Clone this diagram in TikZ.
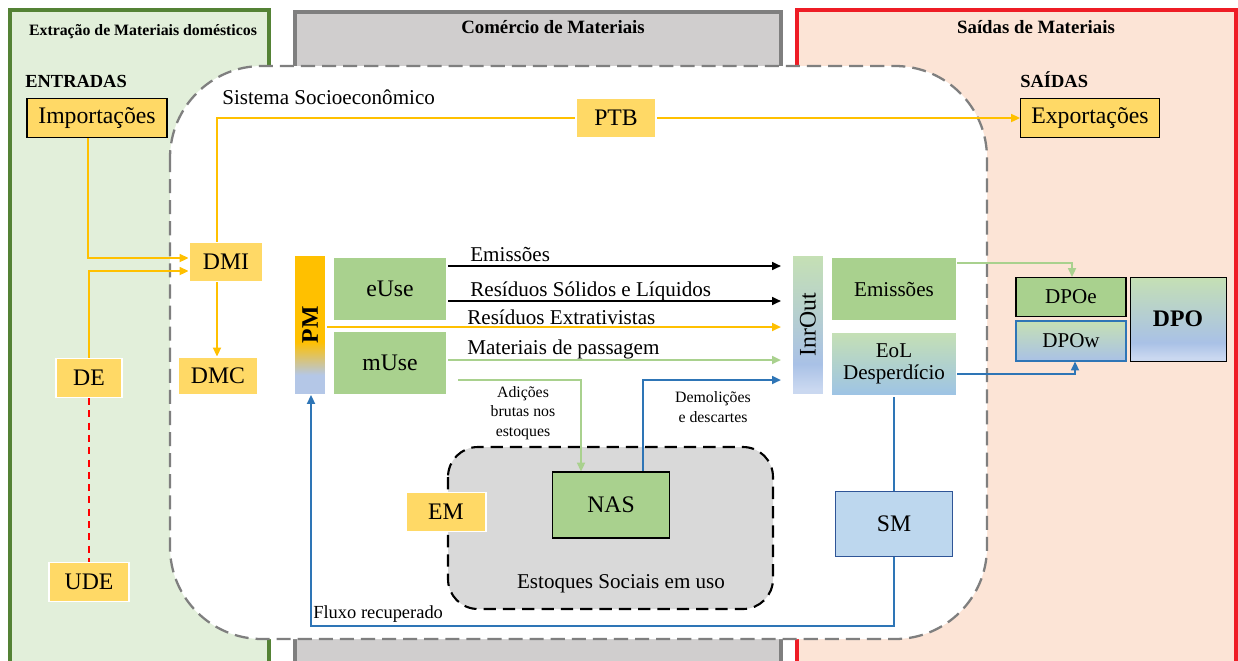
\documentclass[tikz,border=0pt]{standalone}
\usepackage{fontspec}
\setmainfont{Liberation Serif}
\usetikzlibrary{arrows.meta}

\definecolor{gold}{HTML}{FFD966}
\definecolor{amber}{HTML}{FFC000}
\definecolor{leaf}{HTML}{A9D18E}
\definecolor{paleleaf}{HTML}{C5E0B4}
\definecolor{sky}{HTML}{BDD7EE}
\definecolor{steel}{HTML}{2E75B6}
\definecolor{navyline}{HTML}{2F5597}
\definecolor{pmblue}{HTML}{B4C7E7}
\definecolor{dpoblue}{HTML}{A9C1E6}
\definecolor{dpolow}{HTML}{CAD8F0}
\definecolor{eolblue}{HTML}{9DC3E6}
\definecolor{panelgreen}{HTML}{E2EFDA}
\definecolor{bordergreen}{HTML}{548235}
\definecolor{panelgray}{HTML}{D0CECE}
\definecolor{bordergray}{HTML}{7F7F7F}
\definecolor{panelpeach}{HTML}{FCE4D6}
\definecolor{borderred}{HTML}{EE1C25}
\definecolor{stockgray}{HTML}{D9D9D9}

% vertical shadings (0bp = bottom, node spans 25bp..75bp)
\pgfdeclareverticalshading{pmshade}{100bp}{color(0bp)=(pmblue); color(32bp)=(pmblue); color(44bp)=(amber); color(100bp)=(amber)}
\pgfdeclareverticalshading{dposhade}{100bp}{color(0bp)=(dpolow); color(27bp)=(dpolow); color(36bp)=(dpoblue); color(75bp)=(paleleaf); color(100bp)=(paleleaf)}

\newcommand{\fsbox}{\fontsize{13.5}{15}\selectfont}
\newcommand{\fsmid}{\fontsize{12}{12.5}\selectfont}
\newcommand{\fssmall}{\fontsize{9}{11}\selectfont}
\newcommand{\fshead}{\fontsize{9}{11}\selectfont\bfseries}

\pgfdeclarelayer{panels}
\pgfdeclarelayer{flows}
\pgfsetlayers{panels,flows,main}

\tikzset{
  goldbox/.style={fill=gold, draw=white, line width=0.6pt, inner sep=0pt, font=\fsbox},
  leafbox/.style={fill=leaf, draw=white, line width=0.6pt, inner sep=0pt, font=\fsbox},
  barbox/.style={draw=white, line width=0.6pt, inner sep=0pt, minimum width=0.64cm, minimum height=2.78cm},
  flowlabel/.style={inner sep=0pt, font=\fsmid, anchor=base west},
  smalllabel/.style={inner sep=0pt, font=\fssmall, align=center},
  headtext/.style={inner sep=0pt, font=\fshead, anchor=base},
  sidetext/.style={inner sep=0pt, font=\fontsize{10.5}{12}\selectfont\bfseries, anchor=base west},
  tip/.style={-{Triangle[length=5pt,width=4.5pt]}},
  amberflow/.style={amber, line width=1.1pt, tip},
  blackflow/.style={black, line width=0.9pt, tip},
  leafflow/.style={leaf, line width=1.1pt, tip},
  steelflow/.style={steel, line width=1.1pt, tip}
}

\begin{document}
\begin{tikzpicture}[x=0.02cm, y=-0.02cm]
\useasboundingbox (0,0) rectangle (1238,660);

\begin{pgfonlayer}{panels}
  % the three column panels
  \draw[fill=panelgreen, draw=bordergreen, line width=2.2pt] (10,10) rectangle (269,675);
  \draw[fill=panelgray, draw=bordergray, line width=2.2pt] (295,12) rectangle (781,675);
  \draw[fill=panelpeach, draw=borderred, line width=2pt] (797,10) rectangle (1236,675);
  % socioeconomic system
  \draw[fill=white, draw=bordergray, line width=1.3pt, dash pattern=on 8pt off 4pt,
        rounded corners=1.84cm] (170,66) rectangle (987,639);
  % social stocks in use
  \draw[fill=stockgray, draw=black, line width=1.2pt, dash pattern=on 7pt off 4pt,
        rounded corners=0.6cm] (448,447) rectangle (773,609);
\end{pgfonlayer}

% panel titles
\node[headtext] (hdrext) at (143,35) {Extração de Materiais domésticos};
\node[headtext, font=\fontsize{10.7}{12}\selectfont\bfseries] (hdrcom) at (553,33) {Comércio de Materiais};
\node[headtext, font=\fontsize{10.7}{12}\selectfont\bfseries] (hdrout) at (1036,33) {Saídas de Materiais};
\node[sidetext] (entradas) at (25,87) {ENTRADAS};
\node[sidetext] (saidas) at (1020,87) {SAÍDAS};
\node[flowlabel] (sistema) at (222,104) {Sistema Socioeconômico};
\node[inner sep=0pt, font=\fsmid, anchor=base] (stocktext) at (621,588) {Estoques Sociais em uso};

% inputs
\node[goldbox, draw=black, minimum width=2.8cm, minimum height=0.78cm] (imp) at (97,118) {Importações};
\node[goldbox, minimum width=1.48cm, minimum height=0.78cm] (dmi) at (226,262) {DMI};
\node[goldbox, minimum width=1.6cm, minimum height=0.76cm] (dmc) at (218,376) {DMC};
\node[goldbox, minimum width=1.32cm, minimum height=0.78cm] (de) at (89,378) {DE};
\node[goldbox, minimum width=1.6cm, minimum height=0.78cm] (ude) at (89,582) {UDE};
\node[goldbox, minimum width=1.6cm, minimum height=0.8cm] (ptb) at (616,118) {PTB};
\node[goldbox, draw=black, minimum width=2.78cm, minimum height=0.78cm] (exp) at (1090,118) {Exportações};
\node[goldbox, minimum width=1.6cm, minimum height=0.78cm] (em) at (446,512) {EM};

% processing and use
\node[barbox, shading=pmshade] (pm) at (310,325) {};
\node[rotate=90, inner sep=0pt, font=\fsbox\bfseries] (pmtext) at (pm.center) {PM};
\node[leafbox, minimum width=2.28cm, minimum height=1.28cm] (euse) at (390,289) {eUse};
\node[leafbox, minimum width=2.28cm, minimum height=1.28cm] (muse) at (390,363) {mUse};
\node[leafbox, draw=black, minimum width=2.34cm, minimum height=1.32cm] (nas) at (611,505) {NAS};

% outputs
\node[barbox, shading=dposhade] (inr) at (808,325) {};
\node[rotate=90, inner sep=0pt, font=\fsbox] (inrtext) at (inr.center) {InrOut};
\node[leafbox, font=\fsmid, minimum width=2.5cm, minimum height=1.28cm] (emi) at (894,289) {Emissões};
\node[draw=white, line width=0.6pt, top color=paleleaf, bottom color=eolblue, font=\fsmid,
      align=center, inner sep=0pt, minimum width=2.5cm, minimum height=1.28cm] (eol) at (894,364) {EoL\\Desperdício};
\node[fill=sky, draw=navyline, line width=0.6pt, font=\fsbox, inner sep=0pt,
      minimum width=2.34cm, minimum height=1.3cm] (sm) at (894,524) {SM};
\node[leafbox, draw=black, font=\fsmid, minimum width=2.2cm, minimum height=0.78cm] (dpoe) at (1071,297) {DPOe};
\node[draw=steel, line width=0.6pt, top color=paleleaf, bottom color=dpoblue, font=\fsmid,
      inner sep=0pt, minimum width=2.2cm, minimum height=0.8cm] (dpow) at (1071,341) {DPOw};
\node[draw=black, line width=0.5pt, shading=dposhade, font=\fsbox\bfseries, inner sep=0pt,
      minimum width=1.92cm, minimum height=1.68cm] (dpo) at (1178,319) {DPO};

% flow labels
\node[flowlabel] (lblemi) at (470,261) {Emissões};
\node[flowlabel] (lblres) at (470,296) {Resíduos Sólidos e Líquidos};
\node[flowlabel] (lblext) at (467,324) {Resíduos Extrativistas};
\node[flowlabel] (lblpas) at (467,354) {Materiais de passagem};
\node[smalllabel] (lbladd) at (523,413) {Adições\\brutas nos\\estoques};
\node[smalllabel] (lbldem) at (713,407) {Demolições\\e descartes};
\node[inner sep=0pt, font=\fontsize{10.5}{12}\selectfont, anchor=base west] (lblrec) at (313,618) {Fluxo recuperado};

\coordinate (addstart) at (458,380);
\coordinate (recbend) at (311,626);

\begin{pgfonlayer}{flows}
  % into DMI
  \draw[amberflow] (imp.south -| 88,0) |- (dmi.west |- 0,258);
  \draw[amberflow] (de.north) |- (dmi.west |- 0,271);
  \draw[red, line width=1.1pt, dash pattern=on 4pt off 3pt] (de.south) -- (ude.north);
  % trade balance and consumption
  \draw[amberflow] (ptb.west) -| (dmc.north -| 217,0);
  \draw[amberflow] (ptb.east) -- (exp.west);
  % outputs of use
  \draw[blackflow, shorten >=6pt] (euse.east |- 0,266) -- (inr.west |- 0,266);
  \draw[blackflow, shorten >=6pt] (euse.east |- 0,301) -- (inr.west |- 0,301);
  \draw[amberflow, shorten >=6pt] (pm.east |- 0,327) -- (inr.west |- 0,327);
  \draw[leafflow, shorten >=6pt] (muse.east |- 0,360) -- (inr.west |- 0,360);
  % stocks
  \draw[leafflow] (addstart) -| (nas.north -| 581,0);
  \draw[steelflow, shorten >=6pt] (nas.north -| 643,0) |- (inr.west |- 0,380);
  % to DPO
  \draw[leafflow] (emi.east |- 0,263) -| (dpoe.north -| 1072,0);
  \draw[steelflow] (eol.east |- 0,374) -| (dpow.south -| 1075,0);
  % recycling
  \draw[steel, line width=1.1pt] (eol.south) -- (sm.north);
  \draw[steelflow] (sm.south) |- (recbend) -- (pm.south -| recbend);
\end{pgfonlayer}
\end{tikzpicture}
\end{document}
